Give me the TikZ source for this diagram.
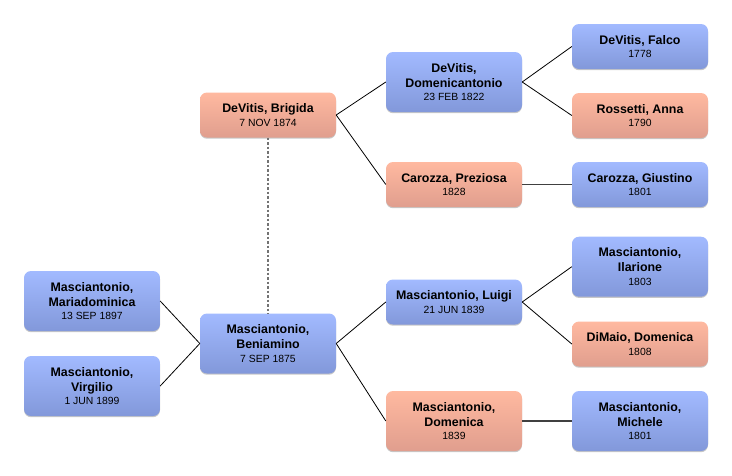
\documentclass[tikz,border=0pt]{standalone}
\usepackage{fontspec}
\setmainfont{Liberation Sans}
\usetikzlibrary{shadows}
\definecolor{btop}{HTML}{A2BAFF}
\definecolor{bbot}{HTML}{8298DA}
\definecolor{stop}{HTML}{FFB9A0}
\definecolor{sbot}{HTML}{E09E8E}
\newcommand{\pname}[1]{{\bfseries #1}}
\newcommand{\pdate}[1]{{\fontsize{10.4}{14}\selectfont #1}}
\tikzset{
  pbox/.style={rounded corners=7pt, minimum width=136pt, align=center,
    inner sep=0pt, text=black, font=\fontsize{12.4}{15}\selectfont,
    drop shadow={shadow xshift=0pt, shadow yshift=-1.2pt, opacity=0.22, fill=black}},
  male/.style={pbox, top color=btop, bottom color=bbot},
  female/.style={pbox, top color=stop, bottom color=sbot},
  two/.style={minimum height=45pt},
  three/.style={minimum height=60pt},
  link/.style={draw=black, line width=0.8pt},
  hlink/.style={draw=black!75, line width=1.1pt},
  spouse/.style={draw=black!55, line width=1.6pt, dash pattern=on 2.5pt off 2pt}
}
\begin{document}
\begin{tikzpicture}[x=1pt,y=-1pt]
\useasboundingbox (0,0) rectangle (732,475);
\node[female,two]   (brig) at (268,115)   {\pname{DeVitis, Brigida}\\[-1.5pt]\pdate{7 NOV 1874}};
\node[male,three]   (dome) at (454,82)    {\pname{DeVitis,}\\\pname{Domenicantonio}\\[-1.5pt]\pdate{23 FEB 1822}};
\node[female,two]   (prez) at (454,184.5) {\pname{Carozza, Preziosa}\\[-1.5pt]\pdate{1828}};
\node[male,two]     (falc) at (640,46.5)  {\pname{DeVitis, Falco}\\[-1.5pt]\pdate{1778}};
\node[female,two]   (ross) at (640,115.5) {\pname{Rossetti, Anna}\\[-1.5pt]\pdate{1790}};
\node[male,two]     (gius) at (640,184.5) {\pname{Carozza, Giustino}\\[-1.5pt]\pdate{1801}};
\node[male,three]   (ilar) at (640,266.7) {\pname{Masciantonio,}\\\pname{Ilarione}\\[-1.5pt]\pdate{1803}};
\node[female,two]   (dima) at (640,344)   {\pname{DiMaio, Domenica}\\[-1.5pt]\pdate{1808}};
\node[male,three]   (mich) at (640,421)   {\pname{Masciantonio,}\\\pname{Michele}\\[-1.5pt]\pdate{1801}};
\node[male,two]     (luig) at (454,302)   {\pname{Masciantonio, Luigi}\\[-1.5pt]\pdate{21 JUN 1839}};
\node[female,three] (domn) at (454,421)   {\pname{Masciantonio,}\\\pname{Domenica}\\[-1.5pt]\pdate{1839}};
\node[male,three]   (beni) at (268,343.5) {\pname{Masciantonio,}\\\pname{Beniamino}\\[-1.5pt]\pdate{7 SEP 1875}};
\node[male,three]   (mari) at (92,301)    {\pname{Masciantonio,}\\\pname{Mariadominica}\\[-1.5pt]\pdate{13 SEP 1897}};
\node[male,three]   (virg) at (92,386)    {\pname{Masciantonio,}\\\pname{Virgilio}\\[-1.5pt]\pdate{1 JUN 1899}};

\draw[link] (brig.east) -- (dome.west);
\draw[link] (brig.east) -- (prez.west);
\draw[link] (dome.east) -- (falc.west);
\draw[link] (dome.east) -- (ross.west);
\draw[hlink] (prez.east) -- (gius.west);
\draw[link] (beni.east) -- (luig.west);
\draw[link] (beni.east) -- (domn.west);
\draw[link] (luig.east) -- (ilar.west);
\draw[link] (luig.east) -- (dima.west);
\draw[hlink] (domn.east) -- (mich.west);
\draw[link] (mari.east) -- (beni.west);
\draw[link] (virg.east) -- (beni.west);
\draw[spouse] (brig.south) -- (beni.north);
\end{tikzpicture}
\end{document}
